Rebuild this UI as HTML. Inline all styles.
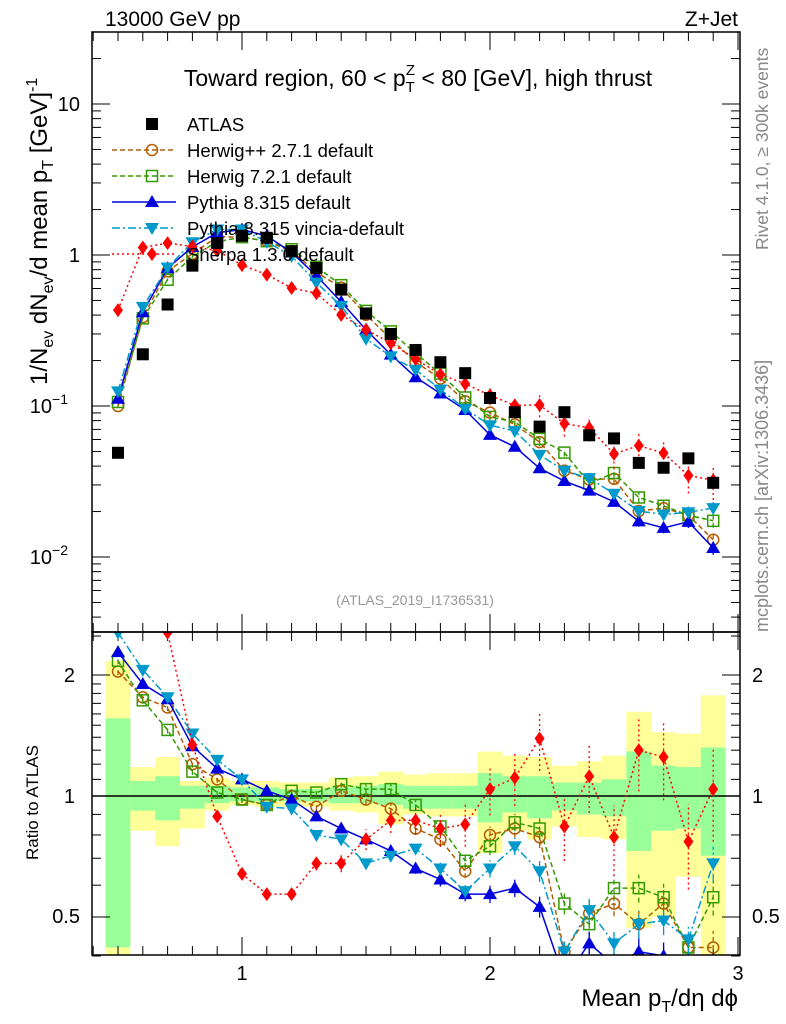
<!DOCTYPE html>
<html><head><meta charset="utf-8"><style>
body{margin:0;background:#fff;}
svg{display:block;font-family:"Liberation Sans",sans-serif;}
</style></head><body>
<svg id="c" width="786" height="1024" viewBox="0 0 786 1024" xmlns="http://www.w3.org/2000/svg">
<defs>
<clipPath id="clipMain"><rect x="92" y="32" width="648" height="600"/></clipPath>
<clipPath id="clipRatio"><rect x="92" y="632" width="648" height="323"/></clipPath>
</defs>
<g id="bands" clip-path="url(#clipRatio)"></g>
<g id="ticks"></g>
<line x1="92" y1="796" x2="740" y2="796" stroke="#000" stroke-width="1.5"/>
<g id="mainSeries" clip-path="url(#clipMain)"></g>
<g id="ratioSeries" clip-path="url(#clipRatio)"></g>
<rect x="92" y="32" width="648" height="600" fill="none" stroke="#000" stroke-width="1.5"/>
<rect x="92" y="632" width="648" height="323" fill="none" stroke="#000" stroke-width="1.5"/>
<text x="105" y="26" font-size="21">13000 GeV pp</text>
<text x="738" y="26" font-size="21" text-anchor="end">Z+Jet</text>
<text x="418" y="86" font-size="23" text-anchor="middle">Toward region, 60 &lt; p<tspan font-size="15" dy="6">T</tspan><tspan font-size="15" dx="-9" dy="-17">Z</tspan><tspan dy="11"> &lt; 80 [GeV], high thrust</tspan></text>
<text x="415" y="605" font-size="14" fill="#999" text-anchor="middle">(ATLAS_2019_I1736531)</text>
<text transform="translate(768,250) rotate(-90)" font-size="17.5" fill="#888">Rivet 4.1.0, ≥ 300k events</text>
<text transform="translate(768,632) rotate(-90)" font-size="18" fill="#888">mcplots.cern.ch [arXiv:1306.3436]</text>
<text transform="translate(47,385) rotate(-90)" font-size="24">1/N<tspan font-size="16" dy="6">ev</tspan><tspan dy="-6"> dN</tspan><tspan font-size="16" dy="6">ev</tspan><tspan dy="-6">/d mean p</tspan><tspan font-size="16" dy="6">T</tspan><tspan dy="-6"> [GeV]</tspan><tspan font-size="16" dy="-10">-1</tspan></text>
<text transform="translate(38,860) rotate(-90)" font-size="17">Ratio to ATLAS</text>
<text x="738" y="1006" font-size="24" text-anchor="end">Mean p<tspan font-size="16" dy="6">T</tspan><tspan dy="-6">/dη dϕ</tspan></text>
<g id="legend"></g>
</svg>
<script>
const bins=[0.5,0.6,0.7,0.8,0.9,1.0,1.1,1.2,1.3,1.4,1.5,1.6,1.7,1.8,1.9,2.0,2.1,2.2,2.3,2.4,2.5,2.6,2.7,2.8,2.9];
const atlas=[0.049,0.22,0.47,0.85,1.2,1.34,1.3,1.06,0.82,0.59,0.41,0.30,0.235,0.195,0.165,0.113,0.091,0.073,0.091,0.064,0.061,0.042,0.039,0.045,0.031];
const ratioHerwigPP=[2.04,1.76,1.66,1.20,1.10,0.98,0.95,1.00,0.94,1.03,0.98,0.93,0.83,0.78,0.65,0.80,0.83,0.79,0.41,0.51,0.54,0.48,0.54,0.42,0.42];
const ratioHerwig7=[2.17,1.73,1.46,1.15,1.02,0.98,0.95,1.03,1.02,1.07,1.04,1.04,0.95,0.84,0.69,0.75,0.86,0.83,0.54,0.48,0.59,0.59,0.56,0.42,0.56];
const ratioPythia=[2.28,1.90,1.74,1.33,1.17,1.10,1.03,0.98,0.89,0.83,0.78,0.73,0.66,0.62,0.57,0.57,0.59,0.53,0.35,0.43,0.38,0.41,0.40,0.38,0.37];
const ratioVincia=[2.55,2.06,1.76,1.43,1.23,1.10,0.94,0.93,0.80,0.78,0.68,0.71,0.74,0.66,0.58,0.66,0.75,0.65,0.41,0.52,0.43,0.48,0.49,0.44,0.68];
const ratioSherpa=[8.8,5.1,2.55,1.34,0.89,0.64,0.57,0.57,0.68,0.68,0.78,0.87,0.87,0.83,0.85,1.04,1.11,1.39,0.84,1.12,0.79,1.30,1.25,0.77,1.04];
const bandYellowHi=[2.17,1.18,1.25,1.09,1.11,1.09,1.09,1.08,1.08,1.11,1.12,1.15,1.13,1.14,1.14,1.29,1.26,1.25,1.19,1.22,1.26,1.62,1.44,1.43,1.78];
const bandYellowLo=[0.38,0.82,0.75,0.83,0.92,0.95,0.94,0.94,0.94,0.92,0.91,0.85,0.90,0.89,0.89,0.72,0.82,0.78,0.84,0.79,0.78,0.47,0.50,0.63,0.39];
const bandGreenHi=[1.56,1.09,1.12,1.06,1.06,1.05,1.05,1.04,1.04,1.05,1.06,1.07,1.06,1.06,1.06,1.14,1.12,1.12,1.08,1.08,1.10,1.29,1.19,1.18,1.32];
const bandGreenLo=[0.42,0.92,0.87,0.93,0.96,0.97,0.97,0.97,0.97,0.96,0.96,0.95,0.93,0.93,0.93,0.86,0.91,0.88,0.92,0.90,0.89,0.73,0.82,0.83,0.71];
const mcRelErr=[0.02,0.02,0.02,0.02,0.02,0.02,0.02,0.02,0.02,0.02,0.03,0.03,0.03,0.04,0.04,0.05,0.05,0.06,0.06,0.07,0.07,0.08,0.08,0.09,0.1];
const sherpaRelErr=[0.03,0.03,0.03,0.03,0.03,0.03,0.03,0.03,0.04,0.05,0.06,0.07,0.08,0.1,0.12,0.14,0.15,0.17,0.18,0.19,0.2,0.21,0.22,0.24,0.26];
const binWidth=0.1;

const NS="http://www.w3.org/2000/svg";
const X=v=>242+(v-1)*248;
const Y=v=>255-Math.log10(v)*151;
const R=v=>796-Math.log10(v)*402;
function mk(tag,attrs,parent){const e=document.createElementNS(NS,tag);for(const k in attrs)e.setAttribute(k,attrs[k]);parent.appendChild(e);return e;}

const gb=document.getElementById('bands');
bins.forEach((b,i)=>{
  const x0=X(b-binWidth/2),x1=X(b+binWidth/2);
  const y=mk('rect',{x:x0,y:R(bandYellowHi[i]),width:x1-x0,height:R(bandYellowLo[i])-R(bandYellowHi[i]),fill:'#ffff99'},gb);
  
  
  const g=mk('rect',{x:x0,y:R(bandGreenHi[i]),width:x1-x0,height:R(bandGreenLo[i])-R(bandGreenHi[i]),fill:'#99ff99'},gb);
  
  
});

const gt=document.getElementById('ticks');
function tick(x1,y1,x2,y2){mk('line',{x1,y1,x2,y2,stroke:'#000','stroke-width':1},gt);}
for(let k=4;k<=30;k++){const v=k/10;const xx=X(v);const major=(k%10===0);const L=major?18:9;
  tick(xx,632,xx,632-L);tick(xx,32,xx,32+L);tick(xx,955,xx,955-L);tick(xx,632,xx,632+L);}
for(let d=-3;d<=1;d++){for(let m=1;m<=9;m++){const v=m*Math.pow(10,d);if(v<0.0032||v>30)continue;const yy=Y(v);const L=m===1?18:9;
  tick(92,yy,92+L,yy);tick(740,yy,740-L,yy);}}
[0.4,0.5,0.6,0.7,0.8,0.9,1,1.1,1.2,1.3,1.4,1.5,1.6,1.7,1.8,1.9,2,2.5].forEach(v=>{const yy=R(v);const L=(v===1||v===2||v===0.5)?18:9;tick(92,yy,92+L,yy);tick(740,yy,740-L,yy);});
function lbl(x,y,t,anchor,size,name){const e=mk('text',{x,y,'font-size':size||20,'text-anchor':anchor||'middle'},gt);e.textContent=t;return e;}
lbl(242,980,'1','middle',20,'x-tick-label');lbl(490,980,'2','middle',20,'x-tick-label');lbl(738,980,'3','middle',20,'x-tick-label');
lbl(80,111,'10','end',20,'y-tick-label');lbl(80,262,'1','end',20,'y-tick-label');
const t1=lbl(68,413,'10','end',20,'y-tick-label');const s1=mk('tspan',{'font-size':14,dy:-9},t1);s1.textContent='−1';
const t2=lbl(68,564,'10','end',20,'y-tick-label');const s2=mk('tspan',{'font-size':14,dy:-9},t2);s2.textContent='−2';
lbl(75,682,'2','end',20,'ratio-tick-label');lbl(75,803,'1','end',20,'ratio-tick-label');lbl(80,923,'0.5','end',20,'ratio-tick-label');
lbl(752,682,'2','start',20,'ratio-tick-label');lbl(752,803,'1','start',20,'ratio-tick-label');lbl(752,923,'0.5','start',20,'ratio-tick-label');

function marker(type,x,y,color,parent){
  let e;
  if(type==='square')e=mk('rect',{x:x-6,y:y-6,width:12,height:12,fill:'#000'},parent);
  else if(type==='circle')e=mk('circle',{cx:x,cy:y,r:5.5,fill:'none',stroke:color,'stroke-width':1.5},parent);
  else if(type==='osquare')e=mk('rect',{x:x-5.5,y:y-5.5,width:11,height:11,fill:'none',stroke:color,'stroke-width':1.5},parent);
  else if(type==='tri')e=mk('polygon',{points:`${x},${y-7} ${x-7},${y+5} ${x+7},${y+5}`,fill:color},parent);
  else if(type==='itri')e=mk('polygon',{points:`${x},${y+7} ${x-7},${y-5} ${x+7},${y-5}`,fill:color},parent);
  else if(type==='diamond')e=mk('polygon',{points:`${x},${y-7} ${x-5},${y} ${x},${y+7} ${x+5},${y}`,fill:color},parent);
  return e;
}
const series=[
 {name:'herwigpp',label:'Herwig++ 2.7.1 default',ratio:ratioHerwigPP,err:mcRelErr,color:'#b35c00',dash:'5,3',type:'circle'},
 {name:'herwig7',label:'Herwig 7.2.1 default',ratio:ratioHerwig7,err:mcRelErr,color:'#339900',dash:'5,3',type:'osquare'},
 {name:'pythia',label:'Pythia 8.315 default',ratio:ratioPythia,err:mcRelErr,color:'#0000dd',dash:'',type:'tri'},
 {name:'vincia',label:'Pythia 8.315 vincia-default',ratio:ratioVincia,err:mcRelErr,color:'#0099cc',dash:'8,3,2,3',type:'itri'},
 {name:'sherpa',label:'Sherpa 1.3.0 default',ratio:ratioSherpa,err:sherpaRelErr,color:'#ff0000',dash:'2,3',type:'diamond'}
];
const gm=document.getElementById('mainSeries'),gr=document.getElementById('ratioSeries');
function errbar(x,ylo,yhi,color,dash,parent){
  const e=mk('line',{x1:x,y1:ylo,x2:x,y2:yhi,stroke:color,'stroke-width':1.3,'stroke-dasharray':dash},parent);
  
  
}
series.forEach(s=>{
  const vals=s.ratio.map((r,i)=>r*atlas[i]);
  const pm=mk('polyline',{points:bins.map((b,i)=>X(b)+','+Y(vals[i])).join(' '),fill:'none',stroke:s.color,'stroke-width':1.5,'stroke-dasharray':s.dash},gm);
  
  
  const pr=mk('polyline',{points:bins.map((b,i)=>X(b)+','+R(s.ratio[i])).join(' '),fill:'none',stroke:s.color,'stroke-width':1.5,'stroke-dasharray':s.dash},gr);
  
  
  bins.forEach((b,i)=>{
    const e=s.err[i];
    errbar(X(b),Y(vals[i]*(1-e)),Y(vals[i]*(1+e)),s.color,s.dash,gm);
    errbar(X(b),R(s.ratio[i]*(1-e)),R(s.ratio[i]*(1+e)),s.color,s.dash,gr);
    const m=marker(s.type,X(b),Y(vals[i]),s.color,gm);
    
    
    const mr=marker(s.type,X(b),R(s.ratio[i]),s.color,gr);
    
    
  });
});
bins.forEach((b,i)=>{
  const m=marker('square',X(b),Y(atlas[i]),'#000',gm);
  
  
});

const gl=document.getElementById('legend');
const lrows=[{label:'ATLAS',type:'square',color:'#000',dash:null}].concat(series);
lrows.forEach((s,k)=>{
  const y=124+k*26;
  const g=mk('g',{},gl);
  
  
  if(s.dash!==null)mk('line',{x1:112,y1:y,x2:176,y2:y,stroke:s.color,'stroke-width':1.5,'stroke-dasharray':s.dash},g);
  marker(s.type,152,y,s.color,g);
  const t=mk('text',{x:187,y:y+7,'font-size':18.5},g);t.textContent=s.label;
});
</script>
</body></html>
